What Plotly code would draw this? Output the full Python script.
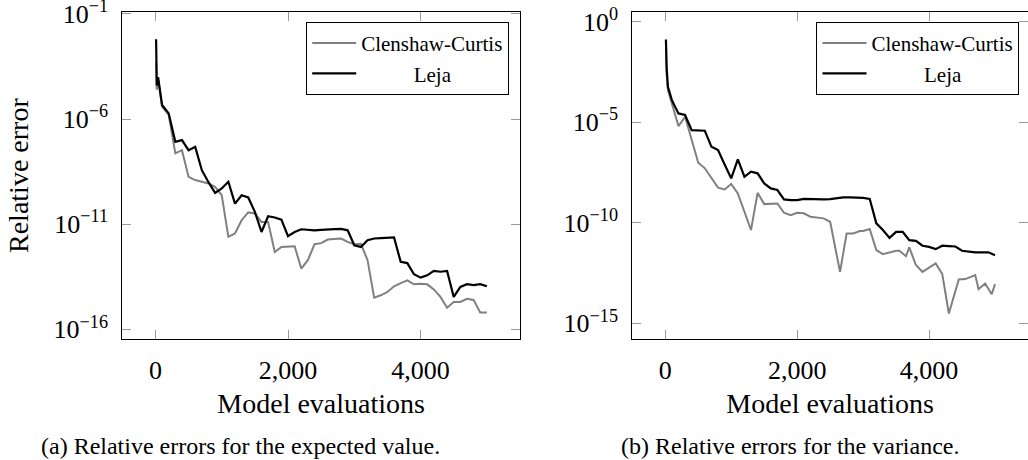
import plotly.graph_objects as go

# ---------------- data ----------------
# (a) expected value : x = model evaluations, values given as log10(relative error)
mean_cc_x = [10, 20, 40, 60, 100, 200, 300, 400, 500, 600, 700, 800, 900, 1000, 1100, 1200, 1300, 1400,
             1500, 1600, 1700, 1800, 1900, 2000, 2100, 2200, 2300, 2400, 2500, 2600, 2700, 2800, 2900,
             3000, 3100, 3200, 3300, 3400, 3500, 3600, 3700, 3800, 3900, 4000, 4100, 4200, 4300, 4400,
             4500, 4600, 4700, 4800, 4900, 5000]
mean_cc_log10 = [-3.3, -4.6, -4.1, -4.6, -5.4, -5.8, -7.63, -7.48, -8.75, -8.9, -8.98, -9.06, -9.22, -9.62,
                 -11.6, -11.44, -10.81, -10.44, -10.49, -10.89, -10.89, -12.32, -12.08, -12.07, -12.05,
                 -13.11, -12.71, -11.95, -11.9, -11.73, -11.7, -11.68, -11.84, -11.95, -11.93, -12.71,
                 -14.49, -14.38, -14.22, -13.95, -13.8, -13.67, -13.86, -13.83, -13.86, -14.1, -14.46,
                 -14.97, -14.7, -14.7, -14.55, -14.6, -15.2, -15.2]

mean_leja_x = [10, 20, 40, 60, 100, 200, 300, 400, 500, 600, 700, 800, 900, 1000, 1100, 1200, 1300, 1400,
               1500, 1600, 1700, 1800, 1900, 2000, 2100, 2200, 2300, 2400, 2500, 2600, 2700, 2800, 2900,
               3000, 3100, 3200, 3300, 3400, 3500, 3600, 3700, 3800, 3900, 4000, 4100, 4200, 4300, 4400,
               4500, 4600, 4700, 4800, 4900, 5000]
mean_leja_log10 = [-2.2, -4.4, -4.0, -4.5, -5.33, -5.73, -7.08, -7.0, -7.48, -7.32, -8.43, -9.0, -9.51, -9.3,
                   -8.98, -10.02, -9.62, -9.73, -10.41, -11.37, -10.62, -10.68, -10.78, -11.57, -11.37,
                   -11.24, -11.26, -11.29, -11.27, -11.24, -11.23, -11.22, -11.29, -12.0, -12.08, -11.76,
                   -11.68, -11.66, -11.64, -11.63, -12.79, -12.85, -13.38, -13.54, -13.43, -13.22, -13.26,
                   -13.22, -14.46, -13.98, -13.85, -13.9, -13.85, -13.95]

# (b) variance
var_cc_x = [10, 20, 40, 100, 200, 300, 400, 500, 600, 700, 800, 900, 1000, 1100, 1300, 1400, 1500, 1700,
            1800, 1900, 2000, 2100, 2200, 2400, 2500, 2650, 2750, 2850, 2950, 3000, 3100, 3200, 3300, 3500,
            3550, 3650, 3700, 3800, 3900, 4100, 4200, 4300, 4450, 4550, 4700, 4750, 4850, 4950, 5000]
var_cc_log10 = [-0.9, -2.57, -3.4, -4.06, -5.19, -4.73, -5.89, -7.01, -7.29, -7.8, -8.25, -8.34, -8.07, -8.54,
                -10.36, -8.51, -9.07, -9.04, -9.5, -9.62, -9.5, -9.53, -9.7, -9.78, -9.95, -12.44, -10.53,
                -10.53, -10.41, -10.41, -10.31, -11.36, -11.56, -11.39, -11.39, -11.66, -11.22, -12.1,
                -12.44, -12.02, -12.55, -14.51, -12.82, -12.8, -12.6, -13.3, -13.02, -13.55, -13.05]

var_leja_x = [10, 20, 40, 100, 200, 300, 400, 500, 600, 700, 800, 900, 1000, 1100, 1200, 1300, 1400, 1500,
              1600, 1700, 1800, 1900, 2000, 2100, 2200, 2300, 2400, 2500, 2600, 2700, 2800, 2900, 3000, 3100,
              3200, 3300, 3400, 3500, 3600, 3700, 3800, 3900, 4000, 4100, 4200, 4300, 4400, 4500, 4600,
              4700, 4800, 4900, 5000]
var_leja_log10 = [-0.88, -2.24, -3.23, -3.9, -4.56, -4.64, -5.39, -5.4, -5.42, -6.22, -6.38, -7.1, -7.79,
                  -6.85, -7.71, -7.46, -7.54, -8.04, -8.29, -8.37, -8.84, -8.87, -8.87, -8.81, -8.83, -8.84,
                  -8.84, -8.82, -8.78, -8.74, -8.74, -8.74, -8.76, -8.81, -10.03, -10.36, -10.75, -10.45,
                  -10.45, -10.86, -10.9, -11.14, -11.2, -11.31, -11.14, -11.16, -11.18, -11.39, -11.43,
                  -11.47, -11.47, -11.47, -11.61]

x_tickvals = [0, 2000, 4000]
x_ticktext = ["0", "2,000", "4,000"]
mean_y_tickvals = [1e-16, 1e-11, 1e-6, 1e-1]
mean_y_ticktext = ["10<sup>\u221216</sup>", "10<sup>\u221211</sup>", "10<sup>\u22126</sup>", "10<sup>\u22121</sup>"]
var_y_tickvals = [1e-15, 1e-10, 1e-5, 1]
var_y_ticktext = ["10<sup>\u221215</sup>", "10<sup>\u221210</sup>", "10<sup>\u22125</sup>", "10<sup>0</sup>"]

series_names = ["Clenshaw-Curtis", "\u00a0" * 10 + "Leja"]
captions = ["(a) Relative errors for the expected value.", "(b) Relative errors for the variance."]

# ---------------- figure ----------------
FONT = "Liberation Serif, Times New Roman, serif"
GRAY = "#808080"

def tolin(vals):
    return [10 ** v for v in vals]

fig = go.Figure()
fig.add_trace(go.Scatter(x=mean_cc_x, y=tolin(mean_cc_log10), mode="lines", name=series_names[0],
                         line=dict(color=GRAY, width=2), xaxis="x", yaxis="y", legend="legend"))
fig.add_trace(go.Scatter(x=mean_leja_x, y=tolin(mean_leja_log10), mode="lines", name=series_names[1],
                         line=dict(color="black", width=2.2), xaxis="x", yaxis="y", legend="legend"))
fig.add_trace(go.Scatter(x=var_cc_x, y=tolin(var_cc_log10), mode="lines", name=series_names[0],
                         line=dict(color=GRAY, width=2), xaxis="x2", yaxis="y2", legend="legend2"))
fig.add_trace(go.Scatter(x=var_leja_x, y=tolin(var_leja_log10), mode="lines", name=series_names[1],
                         line=dict(color="black", width=2.2), xaxis="x2", yaxis="y2", legend="legend2"))

W, H = 1028, 460
xd1 = [122.3 / W, 520.0 / W]
xd2 = [632.3 / W, 1.0]
yd = [1 - 339.0 / H, 1 - 12.3 / H]

common_x = dict(type="linear", range=[-500, 5500], tickvals=x_tickvals, ticktext=x_ticktext,
                showgrid=False, zeroline=False, showline=True, linecolor="black", linewidth=1.2,
                mirror="all", ticks="inside", ticklen=9, tickwidth=1.3, tickcolor="#9a9a9a",
                tickfont=dict(family=FONT, size=26, color="black"), ticklabelstandoff=8,
                automargin=False, ticklabeloverflow="allow",
                title=dict(text="Model evaluations", font=dict(family=FONT, size=28, color="black"),
                           standoff=9))
common_y = dict(type="log", showgrid=False, zeroline=False, showline=True, linecolor="black",
                linewidth=1.2, mirror="all", ticks="inside", ticklen=9, tickwidth=1.3, tickcolor="#9a9a9a",
                tickfont=dict(family=FONT, size=26, color="black"), ticklabelstandoff=8,
                automargin=False, ticklabeloverflow="allow")

legend_common = dict(font=dict(family=FONT, size=21, color="black"), bgcolor="white",
                     bordercolor="black", borderwidth=1.2, xanchor="right", yanchor="top",
                     itemwidth=44, tracegroupgap=0)

fig.update_layout(
    width=W, height=H, autosize=False,
    margin=dict(l=0, r=0, t=0, b=0, pad=0, autoexpand=False),
    paper_bgcolor="white", plot_bgcolor="white",
    font=dict(family=FONT, color="black"),
    xaxis=dict(domain=xd1, anchor="y", **common_x),
    yaxis=dict(domain=yd, anchor="x", range=[-16.46, -0.92], tickvals=mean_y_tickvals,
               ticktext=mean_y_ticktext,
               title=dict(text="Relative error", font=dict(family=FONT, size=28, color="black"),
                          standoff=16), **common_y),
    xaxis2=dict(domain=xd2, anchor="y2", **common_x),
    yaxis2=dict(domain=yd, anchor="x2", range=[-15.78, 0.47], tickvals=var_y_tickvals,
                ticktext=var_y_ticktext, **common_y),
    legend=dict(x=509.0 / W, y=1 - 21.7 / H, **legend_common),
    legend2=dict(x=1019.3 / W, y=1 - 21.7 / H, **legend_common),
    showlegend=True,
    annotations=[
        dict(text=captions[0], x=240 / W, y=1 - 446 / H, xref="paper", yref="paper", showarrow=False,
             xanchor="center", yanchor="middle", font=dict(family=FONT, size=24, color="black")),
        dict(text=captions[1], x=790 / W, y=1 - 446 / H, xref="paper", yref="paper", showarrow=False,
             xanchor="center", yanchor="middle", font=dict(family=FONT, size=24, color="black")),
    ],
)

fig.write_html("out.html", config={"displayModeBar": False},
               post_script="document.body.style.margin='0px';")
